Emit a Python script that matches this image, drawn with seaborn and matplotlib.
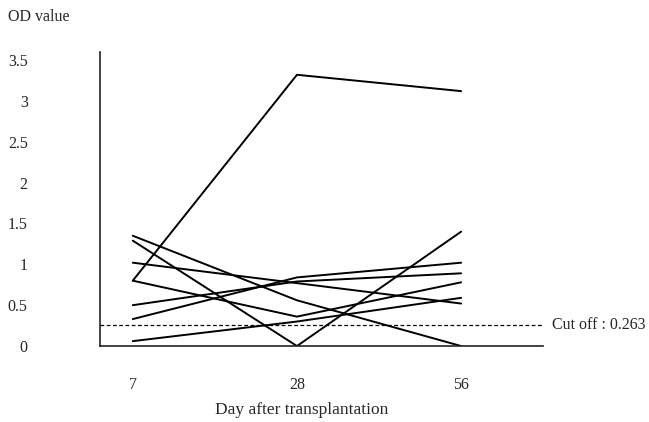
import pandas as pd
import seaborn as sns
import matplotlib.pyplot as plt

# OD values per patient at each day after transplantation
days = ["7", "28", "56"]
p1 = [0.80, 3.32, 3.12]
p2 = [1.29, 0.00, 1.40]
p3 = [1.35, 0.56, 0.00]
p4 = [1.02, 0.77, 0.52]
p5 = [0.80, 0.36, 0.78]
p6 = [0.50, 0.79, 0.89]
p7 = [0.33, 0.84, 1.02]
p8 = [0.06, 0.30, 0.59]
cutoff = 0.263
yticks = [0, 0.5, 1, 1.5, 2, 2.5, 3, 3.5]
ytick_labels = ["0", "0.5", "1", "1.5", "2", "2.5", "3", "3.5"]

patients = [p1, p2, p3, p4, p5, p6, p7, p8]
rows = []
for i, vals in enumerate(patients):
    for j, v in enumerate(vals):
        rows.append({"patient": i, "pos": j, "od": v})
data = pd.DataFrame(rows)

sns.set_style("white")
plt.rcParams['font.family'] = ['Liberation Serif', 'DejaVu Serif']

fig = plt.figure(figsize=(6.49, 4.22), dpi=100)
ax = fig.add_axes([0.154, 0.180, 0.683, 0.697])

sns.lineplot(data=data, x="pos", y="od", units="patient", estimator=None,
             color="black", linewidth=1.4, ax=ax, legend=False)

# cut off line
ax.axhline(cutoff, color="black", linewidth=0.9, linestyle=(0, (3, 2)))
ax.text(1.02, cutoff, "Cut off : 0.263", transform=ax.get_yaxis_transform(),
        ha="left", va="center", fontsize=11.5)

ax.set_xlim(-0.20, 2.50)
ax.set_ylim(0, 3.6)
ax.set_xticks(range(len(days)))
ax.set_xticklabels(days)
ax.set_yticks(yticks)
ax.set_yticklabels(ytick_labels)
ax.tick_params(axis="y", length=0, pad=52, labelsize=11.5)
ax.tick_params(axis="x", length=0, pad=22, labelsize=11.5)
for lab in ax.get_yticklabels():
    lab.set_horizontalalignment("right")

ax.set_xlabel("Day after transplantation", fontsize=12.5)
ax.xaxis.set_label_coords(0.456, -0.19)
ax.set_ylabel("")
fig.text(8 / 649, 1 - 17 / 422, "OD value", ha="left", va="center", fontsize=11.5)

for s in ["top", "right"]:
    ax.spines[s].set_visible(False)
for s in ["left", "bottom"]:
    ax.spines[s].set_color("#222222")
    ax.spines[s].set_linewidth(1.2)

fig.savefig("out.png", dpi=100)
